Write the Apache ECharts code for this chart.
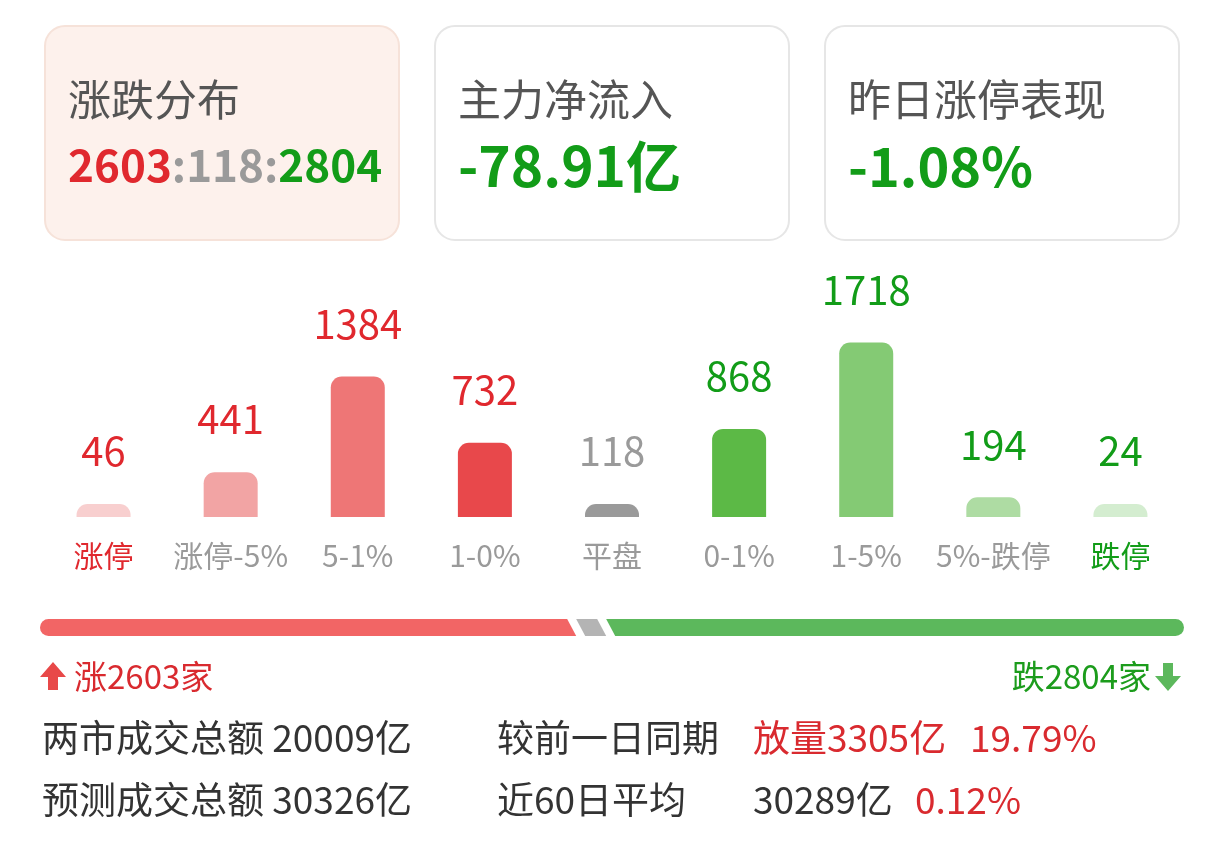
<!DOCTYPE html>
<html>
<head>
<meta charset="utf-8">
<title>涨跌分布</title>
<script src="https://cdn.jsdelivr.net/npm/echarts@6/dist/echarts.min.js"></script>
<style>
  html, body { margin: 0; padding: 0; background: #fff; }
  #chart { width: 1224px; height: 842px; }
</style>
</head>
<body>
<div id="chart"></div>
<script>
// 各区间家数
var categories = ['涨停', '涨停-5%', '5-1%', '1-0%', '平盘', '0-1%', '1-5%', '5%-跌停', '跌停']
var counts = [46, 441, 1384, 732, 118, 868, 1718, 194, 24]
// 涨 平 跌
var upCount = 2603
var flatCount = 118
var downCount = 2804
// 卡片数值
var cardTitles = ['涨跌分布', '主力净流入', '昨日涨停表现']
var mainInflow = '-78.91亿'
var limitUpPerf = '-1.08%'
// 成交额
var rowLabels = ['两市成交总额', '预测成交总额']
var rowAmounts = ['20009亿', '30326亿']
var compareLabels = ['较前一日同期', '近60日平均']
var compareAmounts = ['放量3305亿', '30289亿']
var comparePcts = ['19.79%', '0.12%']

var FONT = "'Noto Sans CJK SC', 'Noto Sans', sans-serif"
var RED = '#e0282e'
var GREEN = '#129c18'
var GRAY = '#9a9a9a'

var barColors = ['#f8cfcf', '#f2a4a4', '#ee7676', '#e8484b', '#9a9a9a', '#5cb946', '#84ca74', '#aedca3', '#d4edd0']
var valueColors = [RED, RED, RED, RED, GRAY, GREEN, GREEN, GREEN, GREEN]
var catColors = [RED, GRAY, GRAY, GRAY, GRAY, GRAY, GRAY, GRAY, GREEN]

var chart = echarts.init(document.getElementById('chart'))

// 进度条分段
var splitData = [
  [0, upCount, 0],
  [upCount, upCount + flatCount, 1],
  [upCount + flatCount, upCount + flatCount + downCount, 2]
]
var splitColors = ['#f26565', '#b4b4b4', '#5cb85c']

function renderSplit (params, api) {
  var h = 17
  var gap = 9
  var slant = 9
  var minFlat = 30
  var cy = api.coord([0, 0])[1]
  var top = cy - h / 2
  var bottom = cy + h / 2
  var left = api.coord([0, 0])[0]
  var right = api.coord([upCount + flatCount + downCount, 0])[0]
  var b1 = api.coord([upCount, 0])[0]
  var b2 = api.coord([upCount + flatCount, 0])[0]
  if (b2 - b1 < minFlat) {
    var c = (b1 + b2) / 2
    b1 = c - minFlat / 2
    b2 = c + minFlat / 2
  }
  var idx = api.value(2)
  var r = h / 2
  var color = splitColors[idx]
  var children = []
  var pts
  if (idx === 0) {
    pts = [[left + r, top], [b1 - gap / 2 - slant / 2, top], [b1 - gap / 2 + slant / 2, bottom], [left + r, bottom]]
    children.push({ type: 'circle', shape: { cx: left + r, cy: cy, r: r }, style: { fill: color } })
  } else if (idx === 1) {
    pts = [[b1 + gap / 2 - slant / 2, top], [b2 - gap / 2 - slant / 2, top], [b2 - gap / 2 + slant / 2, bottom], [b1 + gap / 2 + slant / 2, bottom]]
  } else {
    pts = [[b2 + gap / 2 - slant / 2, top], [right - r, top], [right - r, bottom], [b2 + gap / 2 + slant / 2, bottom]]
    children.push({ type: 'circle', shape: { cx: right - r, cy: cy, r: r }, style: { fill: color } })
  }
  children.push({ type: 'polygon', shape: { points: pts }, style: { fill: color } })
  return { type: 'group', children: children }
}

function card (x, fill, stroke) {
  return {
    type: 'rect',
    shape: { x: x, y: 26, width: 354, height: 214, r: 20 },
    style: { fill: fill, stroke: stroke, lineWidth: 2 },
    z: 0
  }
}

function txt (x, y, text, size, color, opts) {
  opts = opts || {}
  return {
    type: 'text',
    x: x,
    y: y,
    style: {
      text: text,
      fontSize: size,
      fontFamily: FONT,
      fontWeight: opts.weight || 'normal',
      fill: color,
      align: opts.align || 'left',
      verticalAlign: 'middle',
      rich: opts.rich
    },
    z: 5
  }
}

var graphics = [
  card(45, '#fdf1ec', '#f6e2d9'),
  card(435, '#ffffff', '#e6e6e6'),
  card(825, '#ffffff', '#e6e6e6'),
  txt(68, 100, cardTitles[0], 43, '#555'),
  txt(458, 100, cardTitles[1], 43, '#555'),
  txt(848, 100, cardTitles[2], 43, '#555'),
  txt(68, 165, '{r|' + upCount + '}{g|:' + flatCount + ':}{d|' + downCount + '}', 44, RED, {
    weight: 'bold',
    rich: {
      r: { fontSize: 44, fontWeight: 'bold', fontFamily: FONT, fill: RED, color: RED },
      g: { fontSize: 44, fontWeight: 'bold', fontFamily: FONT, fill: GRAY, color: GRAY },
      d: { fontSize: 44, fontWeight: 'bold', fontFamily: FONT, fill: GREEN, color: GREEN }
    }
  }),
  txt(458, 166, mainInflow, 55, GREEN, { weight: 'bold' }),
  txt(848, 166, limitUpPerf, 54, GREEN, { weight: 'bold' }),
  // 涨跌家数
  {
    type: 'polygon',
    shape: { points: [[53, 662], [66, 677], [58, 677], [58, 690], [48, 690], [48, 677], [40, 677]] },
    style: { fill: '#e84848' }
  },
  txt(74, 676, '涨' + upCount + '家', 33, '#d92a2f'),
  {
    type: 'polygon',
    shape: { points: [[1168, 691], [1181, 676], [1173, 676], [1173, 663], [1163, 663], [1163, 676], [1155, 676]] },
    style: { fill: '#5cb85c' }
  },
  txt(1151, 676, '跌' + downCount + '家', 33, '#1c9c1c', { align: 'right' }),
  // 成交额
  txt(42, 738, rowLabels[0] + ' ' + rowAmounts[0], 37, '#333'),
  txt(42, 800, rowLabels[1] + ' ' + rowAmounts[1], 37, '#333'),
  txt(497, 738, compareLabels[0], 37, '#333'),
  txt(497, 800, compareLabels[1], 37, '#333'),
  txt(753, 738, compareAmounts[0], 37, '#d92a2f'),
  txt(970, 738, comparePcts[0], 37, '#d92a2f'),
  txt(753, 800, compareAmounts[1], 37, '#333'),
  txt(915, 800, comparePcts[1], 37, '#d92a2f')
]

chart.setOption({
  animation: false,
  backgroundColor: '#ffffff',
  graphic: graphics,
  grid: [
    { left: 40, right: 40, top: 314, bottom: 325 },
    { left: 40, right: 40, top: 619, height: 17 }
  ],
  xAxis: [
    {
      type: 'category',
      gridIndex: 0,
      data: categories.map(function (name, i) {
        return { value: name, textStyle: { color: catColors[i] } }
      }),
      axisLine: { show: false },
      axisTick: { show: false },
      axisLabel: { fontSize: 30, fontFamily: FONT, margin: 24, interval: 0 }
    },
    {
      type: 'value',
      gridIndex: 1,
      min: 0,
      max: upCount + flatCount + downCount,
      show: false
    }
  ],
  yAxis: [
    { type: 'value', gridIndex: 0, min: 0, max: 2000, show: false },
    { type: 'value', gridIndex: 1, min: -1, max: 1, show: false }
  ],
  series: [
    {
      type: 'bar',
      xAxisIndex: 0,
      yAxisIndex: 0,
      barWidth: 54,
      barMinHeight: 13,
      data: counts.map(function (v, i) {
        return {
          value: v,
          itemStyle: { color: barColors[i], borderRadius: [11, 11, 0, 0] },
          label: { color: valueColors[i] }
        }
      }),
      label: {
        show: true,
        position: 'top',
        distance: 33,
        fontSize: 40,
        fontFamily: FONT
      }
    },
    {
      type: 'custom',
      xAxisIndex: 1,
      yAxisIndex: 1,
      renderItem: renderSplit,
      data: splitData,
      silent: true
    }
  ]
})
</script>
</body>
</html>
